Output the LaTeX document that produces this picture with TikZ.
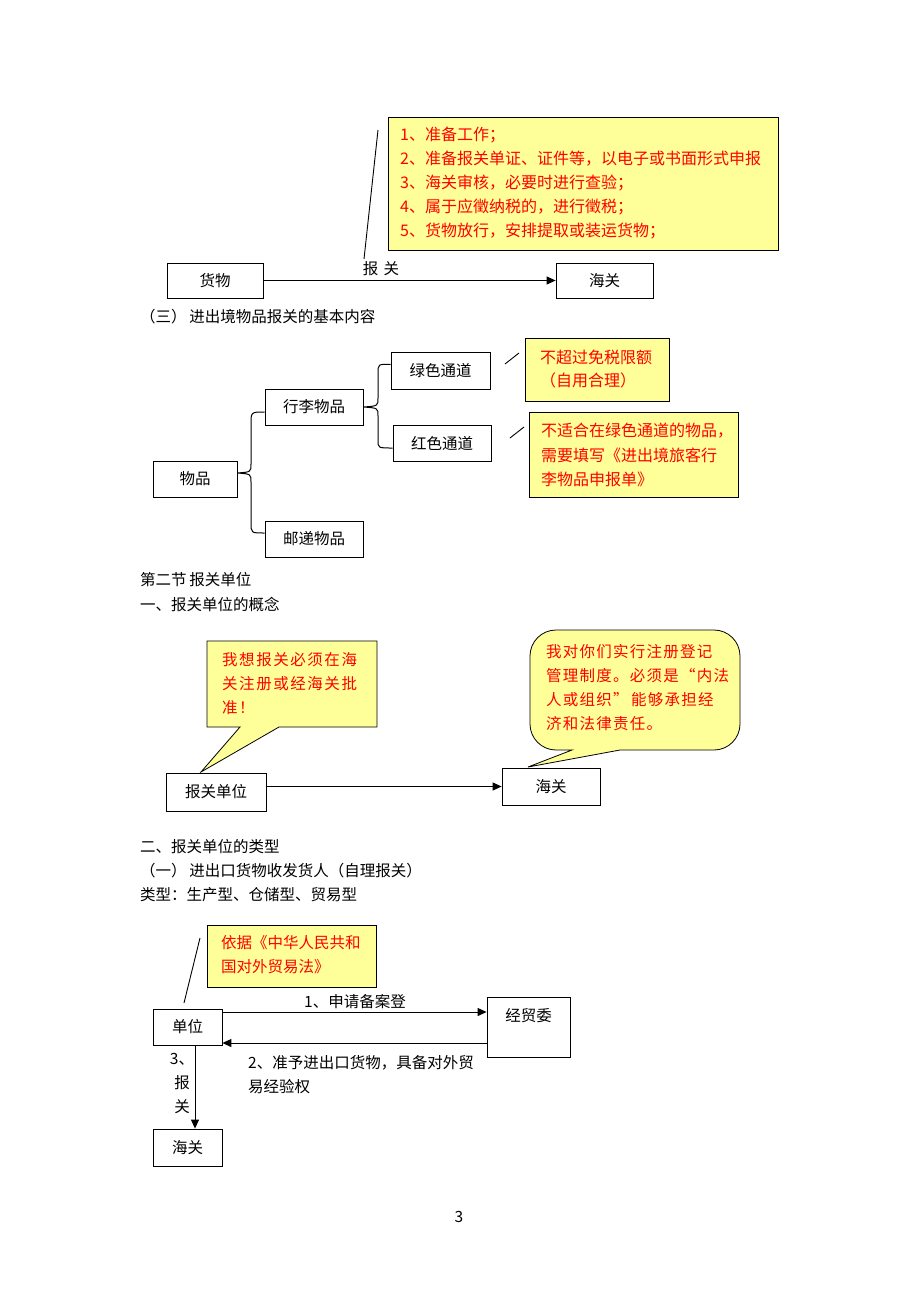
\documentclass[tikz,border=0pt]{standalone}
\usepackage{fontspec}
\setmainfont{Noto Sans CJK SC}
\newfontfamily\lsfont[LetterSpace=10]{Noto Sans CJK SC}
\newfontfamily\lsfontb[LetterSpace=8]{Noto Sans CJK SC}
\usetikzlibrary{arrows.meta,calc}
\definecolor{ylw}{HTML}{FFFF99}
\definecolor{rd}{HTML}{FF0000}
\begin{document}
\begin{tikzpicture}[x=1pt,y=-1pt,
  box/.style={draw=black,line width=0.8pt,inner sep=0pt,font=\fontsize{15.5}{18}\selectfont},
  ybox/.style={draw=black,line width=0.8pt,fill=ylw,inner sep=0pt},
  txt/.style={inner sep=0pt,anchor=west,font=\fontsize{15.5}{18}\selectfont},
  rtxt/.style={txt,text=rd,font=\fontsize{16}{18}\selectfont},
  conn/.style={line width=1pt},
  arr/.style={conn,-{Triangle[length=9pt,width=8pt]}}]
\useasboundingbox[fill=white] (0,0) rectangle (920,1302);

% ---------- section 1 ----------
\node[ybox,minimum width=390pt,minimum height=133pt] (yb1) at (583,183.5) {};
\node[rtxt] (s1a) at (400,135) {1、准备工作；};
\node[rtxt] (s1b) at (400,159) {2、准备报关单证、证件等，以电子或书面形式申报};
\node[rtxt] (s1c) at (400,183) {3、海关审核，必要时进行查验；};
\node[rtxt] (s1d) at (400,207) {4、属于应徵纳税的，进行徵税；};
\node[rtxt] (s1e) at (400,231) {5、货物放行，安排提取或装运货物；};
\coordinate (p1a) at (378,130);
\coordinate (p1b) at (364,259);
\draw[line width=0.9pt] (p1a) -- (p1b);
\node[box,minimum width=96pt,minimum height=35pt] (hw) at (215,280.5) {货物};
\node[box,minimum width=97pt,minimum height=35pt] (hg1) at (604.5,280.5) {海关};
\draw[arr] (hw.east) -- (hg1.west);
\node[txt,anchor=center] (bg) at (381,269) {报\,\,关};
\node[txt] (c3) at (140,317) {（三）\,进出境物品报关的基本内容};

% ---------- section 2 ----------
\node[box,minimum width=84pt,minimum height=36pt] (wp) at (195,479) {物品};
\node[box,minimum width=98pt,minimum height=36pt] (xl) at (314,407) {行李物品};
\node[box,minimum width=98pt,minimum height=36pt] (yd) at (314,539) {邮递物品};
\node[box,minimum width=99pt,minimum height=37pt] (lv) at (440.5,370.5) {绿色通道};
\node[box,minimum width=98pt,minimum height=36pt] (hs) at (442,443) {红色通道};
% braces
\draw[conn] ([yshift=-5pt]xl.west) .. controls (251,412) .. (251,424)
  -- (251,464) .. controls (251,472) .. ([yshift=6pt]wp.east)
  .. controls (251,474) .. (251,482) -- (251,523)
  .. controls (251,533) .. ([yshift=6pt]yd.west);
\draw[conn] ([yshift=6pt]lv.west) .. controls (378,364) .. (378,374)
  -- (378,398) .. controls (378,406) .. (xl.east)
  .. controls (378,408) .. (378,416) -- (378,440)
  .. controls (378,448) .. ([yshift=-5pt]hs.west);
\coordinate (q1a) at (505,364); \coordinate (q1b) at (519,353);
\coordinate (q2a) at (510,438); \coordinate (q2b) at (524,427);
\draw[line width=0.9pt] (q1a) -- (q1b);
\draw[line width=0.9pt] (q2a) -- (q2b);
\node[ybox,minimum width=144pt,minimum height=63pt] (yb2) at (597,369.5) {};
\node[rtxt] (g1) at (540,357) {不超过免税限额};
\node[rtxt] (g2) at (540,380) {（自用合理）};
\node[ybox,minimum width=209pt,minimum height=85pt] (yb3) at (633.5,454.5) {};
\node[rtxt] (r1) at (541,431) {不适合在绿色通道的物品，};
\node[rtxt] (r2) at (541,455) {需要填写《进出境旅客行};
\node[rtxt] (r3) at (541,479) {李物品申报单》};
\node[txt] (h2) at (140,580) {第二节\,报关单位};
\node[txt] (h3) at (140,604) {一、报关单位的概念};

% ---------- section 3 ----------
\filldraw[fill=ylw,draw=black,line width=0.8pt]
  (207,641) -- (377,641) -- (377,727) -- (279,727) -- (201,772) -- (240,727) -- (207,727) -- cycle;
\node[txt,text=rd,font=\lsfont\fontsize{15.5}{18}\selectfont] (k1) at (222,660) {我想报关必须在海};
\node[txt,text=rd,font=\lsfont\fontsize{15.5}{18}\selectfont] (k2) at (222,684) {关注册或经海关批};
\node[txt,text=rd,font=\lsfont\fontsize{15.5}{18}\selectfont] (k3) at (222,708) {准！};
\filldraw[fill=ylw,draw=black,line width=0.8pt]
  (528,767) -- (572,750) [rounded corners=26pt] -- (530,750) -- (530,630) -- (740,630) -- (740,750) [sharp corners] -- (620,750) -- cycle;
\node[txt,text=rd,font=\lsfontb\fontsize{15.5}{18}\selectfont] (m1) at (546,652) {我对你们实行注册登记};
\node[txt,text=rd,font=\lsfontb\fontsize{15.5}{18}\selectfont] (m2) at (546,676) {管理制度。必须是“内法};
\node[txt,text=rd,font=\lsfontb\fontsize{15.5}{18}\selectfont] (m3) at (546,700) {人或组织”\,能够承担经};
\node[txt,text=rd,font=\lsfontb\fontsize{15.5}{18}\selectfont] (m4) at (546,724) {济和法律责任。};
\node[box,minimum width=100pt,minimum height=38pt] (bd) at (216,792) {报关单位};
\node[box,minimum width=98pt,minimum height=37pt] (hg2) at (551,786.5) {海关};
\draw[arr] (bd.east |- hg2.west) -- (hg2.west);
\node[txt] (h4) at (140,847) {二、报关单位的类型};
\node[txt] (h5) at (140,871) {（一）\,进出口货物收发货人（自理报关）};
\node[txt] (h6) at (140,895) {类型：生产型、仓储型、贸易型};

% ---------- section 4 ----------
\node[ybox,minimum width=169pt,minimum height=62pt] (yb4) at (291.5,956) {};
\node[txt,text=rd] (y1) at (221,943) {依据《中华人民共和};
\node[txt,text=rd] (y2) at (221,967) {国对外贸易法》};
\coordinate (s4a) at (200,938); \coordinate (s4b) at (184,1003);
\draw[line width=0.9pt] (s4a) -- (s4b);
\node[box,minimum width=69pt,minimum height=36pt] (dw) at (187.5,1027) {单位};
\node[box,minimum width=83pt,minimum height=60pt] (jmw) at (528.5,1027) {};
\node[txt,anchor=center] (jmwt) at (528.5,1016) {经贸委};
\node[box,minimum width=69pt,minimum height=37pt] (hg3) at (187.5,1147.5) {海关};
\draw[arr] ([yshift=15pt]dw.east) -- ([yshift=15pt]dw.east -| jmw.west);
\draw[arr] ([yshift=-16pt]jmw.west) -- ([yshift=-16pt]jmw.west -| dw.east);
\draw[arr] ([xshift=7.5pt]dw.south) -- ([xshift=7.5pt]dw.south |- hg3.north);
\node[txt,anchor=center] (l1) at (355,1002) {1、申请备案登};
\node[txt] (l2a) at (248,1063) {2、准予进出口货物，具备对外贸};
\node[txt] (l2b) at (248,1087) {易经验权};
\node[txt,anchor=center] (l3a) at (182,1059) {3、};
\node[txt,anchor=center] (l3b) at (182,1083) {报};
\node[txt,anchor=center] (l3c) at (182,1107) {关};
\node[txt,anchor=center] (pg) at (459,1217) {3};
\end{tikzpicture}
\end{document}
